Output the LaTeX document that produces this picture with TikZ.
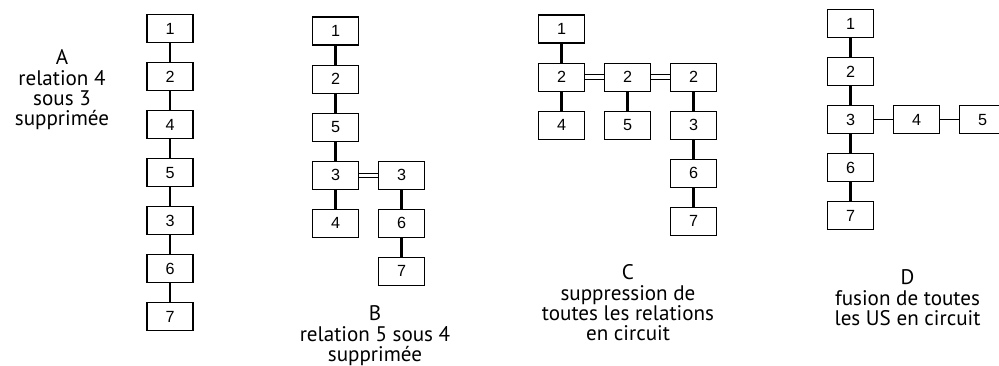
\documentclass[tikz,border=0pt]{standalone}
\usepackage{fontspec}
\setmainfont{PT Sans}
\newfontfamily\chiffres{Liberation Sans}
\usetikzlibrary{positioning}

\tikzset{
    usbox/.style={draw, line width=0.6pt, minimum width=0.92cm, minimum height=0.56cm, inner sep=0pt, font=\chiffres\fontsize{9.2}{10}\selectfont},
    lien/.style={line width=1.4pt},
    lienfin/.style={line width=0.7pt},
    liendouble/.style={double, line width=0.6pt, double distance=1.8pt},
    legende/.style={align=center, inner sep=0pt, font=\fontsize{12}{11.6}\selectfont}
}

\begin{document}
\begin{tikzpicture}[node distance=0.38cm]

        \useasboundingbox (0,0) rectangle (19.98,-7.30);

        \coordinate (A) at (3.40,-0.57);
        \coordinate (B) at (6.71,-0.62);
        \coordinate (C) at (11.23,-0.58);
        \coordinate (D) at (17.01,-0.47);

        % A
        \node[usbox] (a1) at (A) {1};
        \node[usbox, below=of a1] (a2) {2};
        \node[usbox, below=of a2] (a4) {4};
        \node[usbox, below=of a4] (a5) {5};
        \node[usbox, below=of a5] (a3) {3};
        \node[usbox, below=of a3] (a6) {6};
        \node[usbox, below=of a6] (a7) {7};

        \draw[lien] (a1) -- (a2) (a2) -- (a4) (a4) -- (a5) (a5) -- (a3) (a3) -- (a6) (a6) -- (a7);

        \node[legende] (legA) at (1.24,-1.80) {A\\relation 4\\sous 3\\supprimée};

        % B
        \node[usbox] (b1) at (B) {1};
        \node[usbox, below=of b1] (b2) {2};
        \node[usbox, below=of b2] (b5) {5};
        \node[usbox, below=of b5] (b3) {3};
        \node[usbox, below=of b3] (b4) {4};
        \node[usbox, right=of b3] (b3bis) {3};
        \node[usbox, below=of b3bis] (b6) {6};
        \node[usbox, below=of b6] (b7) {7};

        \draw[lien] (b1) -- (b2) (b2) -- (b5) (b5) -- (b3) (b3) -- (b4);
        \draw[lien] (b3bis) -- (b6) (b6) -- (b7);
        \draw[liendouble] (b3) -- (b3bis);

        \node[legende] (legB) at (7.50,-6.72) {B\\relation 5 sous 4\\supprimée};

        % C
        \node[usbox] (c1) at (C) {1};
        \node[usbox, below=of c1] (c2) {2};
        \node[usbox, below=of c2] (c4) {4};
        \node[usbox, right=of c2] (c2b) {2};
        \node[usbox, below=of c2b] (c5) {5};
        \node[usbox, right=of c2b] (c2c) {2};
        \node[usbox, below=of c2c] (c3) {3};
        \node[usbox, below=of c3] (c6) {6};
        \node[usbox, below=of c6] (c7) {7};

        \draw[lien] (c1) -- (c2) (c2) -- (c4) (c2b) -- (c5);
        \draw[lien] (c2c) -- (c3) (c3) -- (c6) (c6) -- (c7);
        \draw[liendouble] (c2) -- (c2b);
        \draw[liendouble] (c2b) -- (c2c);

        \node[legende] (legC) at (12.56,-6.06) {C\\suppression de\\toutes les relations\\en circuit};

        % D
        \node[usbox] (d1) at (D) {1};
        \node[usbox, below=of d1] (d2) {2};
        \node[usbox, below=of d2] (d3) {3};
        \node[usbox, below=of d3] (d6) {6};
        \node[usbox, below=of d6] (d7) {7};
        \node[usbox, right=of d3] (d4) {4};
        \node[usbox, right=of d4] (d5) {5};

        \draw[lien] (d1) -- (d2) (d2) -- (d3) (d3) -- (d6) (d6) -- (d7);
        \draw[lienfin] (d3) -- (d4) (d4) -- (d5);

        \node[legende] (legD) at (18.15,-5.96) {D\\fusion de toutes\\les US en circuit};

    \end{tikzpicture}
\end{document}
